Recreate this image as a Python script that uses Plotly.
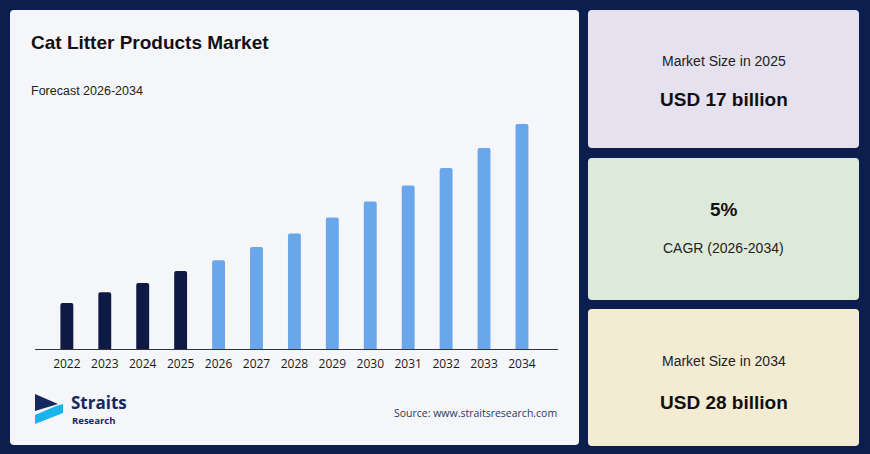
import plotly.graph_objects as go

W, H = 870, 454

years = ["2022", "2023", "2024", "2025", "2026", "2027", "2028",
         "2029", "2030", "2031", "2032", "2033", "2034"]
market_size_bn = [14.6, 15.4, 16.1, 17.0, 17.8, 18.8, 19.8,
                  21.0, 22.2, 23.4, 24.7, 26.2, 28.0]
first_forecast_year = "2026"

title_text = "Cat Litter Products Market"
subtitle_text = "Forecast 2026-2034"
source_text = "Source: www.straitsresearch.com"
cards = [
    ("Market Size in 2025", "USD 17 billion"),
    ("5%", "CAGR (2026-2034)"),
    ("Market Size in 2034", "USD 28 billion"),
]

BG = "#0b1e4d"
PANEL = "#f5f6fa"
HIST = "#0e1a44"
FCST = "#6aa7ea"
CARD_COLORS = ["#e5e1ef", "#deead9", "#f4ecd2"]


def px(x):
    return x / W


def py(y):
    return 1 - y / H


def rounded_rect(x0, y0, x1, y1, r=4):
    X0, X1 = px(x0), px(x1)
    Y0, Y1 = py(y0), py(y1)
    rx, ry = r / W, r / H
    return (f"M{X0+rx},{Y0} L{X1-rx},{Y0} Q{X1},{Y0} {X1},{Y0-ry} "
            f"L{X1},{Y1+ry} Q{X1},{Y1} {X1-rx},{Y1} L{X0+rx},{Y1} "
            f"Q{X0},{Y1} {X0},{Y1+ry} L{X0},{Y0-ry} Q{X0},{Y0} {X0+rx},{Y0} Z")


colors = [HIST if y < first_forecast_year else FCST for y in years]

fig = go.Figure()
fig.add_trace(go.Bar(
    x=years, y=market_size_bn, marker=dict(color=colors, line=dict(width=0)),
    width=0.34, hoverinfo="x+y",
))

shapes = []
shapes.append(dict(type="path", xref="paper", yref="paper",
                   path=rounded_rect(10, 10, 579, 445), fillcolor=PANEL,
                   line=dict(width=0), layer="below"))
card_boxes = [(588, 10, 859, 148), (588, 158, 859, 300), (588, 309, 859, 446)]
for (x0, y0, x1, y1), c in zip(card_boxes, CARD_COLORS):
    shapes.append(dict(type="path", xref="paper", yref="paper",
                       path=rounded_rect(x0, y0, x1, y1), fillcolor=c,
                       line=dict(width=0), layer="below"))


def poly(pts):
    return "M" + " L".join(f"{px(a)},{py(b)}" for a, b in pts) + " Z"


shapes.append(dict(type="path", xref="paper", yref="paper",
                   path=poly([(35, 394), (58, 404), (35, 411)]),
                   fillcolor="#16295e", line=dict(width=0)))
shapes.append(dict(type="path", xref="paper", yref="paper",
                   path=poly([(35, 415), (56, 406), (63, 404), (63, 413), (35, 424)]),
                   fillcolor="#19b4ec", line=dict(width=0)))

annotations = [
    dict(text=f"<b>{title_text}</b>", x=px(29), y=py(42), xanchor="left",
         yanchor="middle", font=dict(size=19, color="#111111",
                                     family="Liberation Sans, Arial")),
    dict(text=subtitle_text, x=px(29), y=py(91), xanchor="left",
         yanchor="middle", font=dict(size=12.5, color="#222222",
                                     family="Liberation Sans, Arial")),
    dict(text=source_text, x=px(559), y=py(413), xanchor="right",
         yanchor="middle", font=dict(size=10.5, color="#2b3a5e",
                                     family="Open Sans")),
    dict(text="<b>Straits</b>", x=px(69), y=py(402), xanchor="left",
         yanchor="middle", font=dict(size=17, color="#16295e",
                                     family="Open Sans")),
    dict(text="<b>Research</b>", x=px(70), y=py(420), xanchor="left",
         yanchor="middle", font=dict(size=9.5, color="#16295e",
                                     family="Open Sans")),
]

cx = px((588 + 859) / 2)
card_y = [(61, 100), (209, 248), (361, 402)]
for i, ((a, b), (ya, yb)) in enumerate(zip(cards, card_y)):
    if i == 1:
        annotations.append(dict(text=f"<b>{a}</b>", x=cx, y=py(ya),
                                font=dict(size=19, color="#111111")))
        annotations.append(dict(text=b, x=cx, y=py(yb),
                                font=dict(size=14, color="#222222")))
    else:
        annotations.append(dict(text=a, x=cx, y=py(ya),
                                font=dict(size=14, color="#222222")))
        annotations.append(dict(text=f"<b>{b}</b>", x=cx, y=py(yb),
                                font=dict(size=19, color="#111111")))
for a in annotations[5:]:
    a.update(xref="paper", yref="paper", xanchor="center", yanchor="middle",
             showarrow=False)
    a["font"]["family"] = "Liberation Sans, Arial"
for a in annotations[:5]:
    a.update(xref="paper", yref="paper", showarrow=False)

fig.update_layout(
    width=W, height=H, margin=dict(l=0, r=0, t=0, b=0),
    paper_bgcolor=BG, plot_bgcolor="rgba(0,0,0,0)",
    showlegend=False, barcornerradius=2,
    shapes=shapes, annotations=annotations,
    xaxis=dict(domain=[px(35), px(558)], range=[-0.84, 12.95],
               type="category", showgrid=False, showline=True,
               linecolor="#333333", linewidth=1, ticks="",
               ticklabelstandoff=4,
               tickfont=dict(size=12, color="#1a1a1a", family="Open Sans"),
               fixedrange=True),
    yaxis=dict(domain=[py(349), py(110)], range=[11.16, 29.05],
               visible=False, showgrid=False, zeroline=False, fixedrange=True),
)

fig.write_html("out.html", config={"displayModeBar": False})
